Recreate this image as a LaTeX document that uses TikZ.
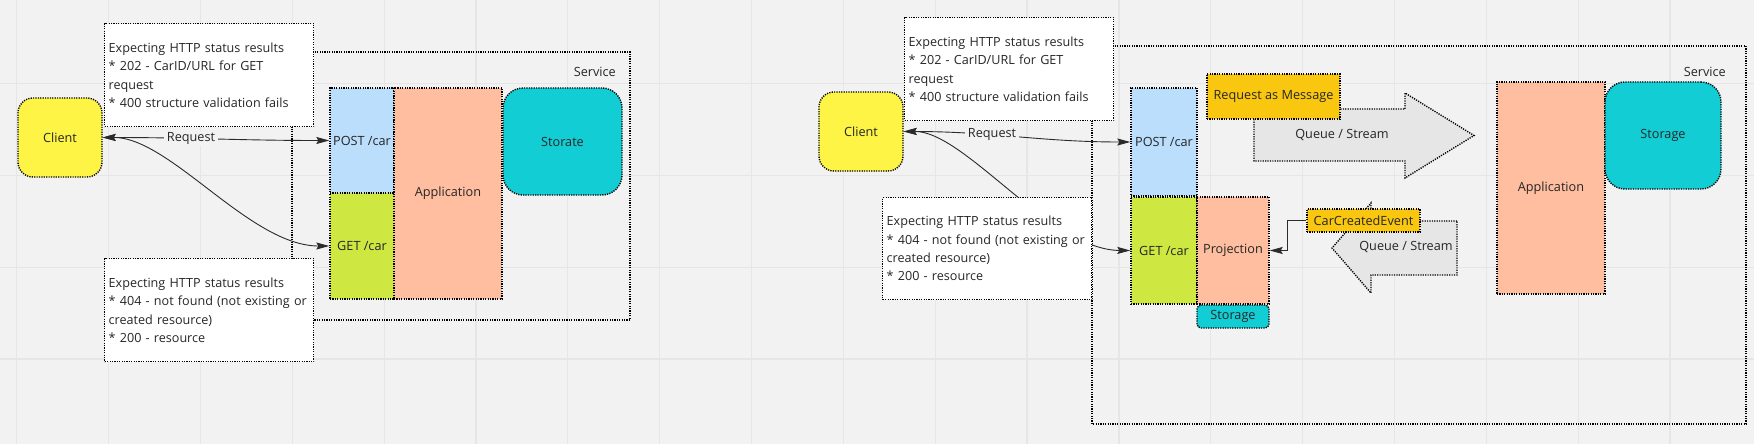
\documentclass[tikz,border=0pt]{standalone}
\usepackage{fontspec}
\setmainfont{Open Sans}
\usetikzlibrary{arrows.meta}

\definecolor{bgcol}{HTML}{F2F2F2}
\definecolor{gridcol}{HTML}{E6E6E6}
\definecolor{txtcol}{HTML}{262626}
\definecolor{linecol}{HTML}{2B2B2B}
\definecolor{clientcol}{HTML}{FEF445}
\definecolor{postcol}{HTML}{BBDEFC}
\definecolor{getcol}{HTML}{CEE741}
\definecolor{appcol}{HTML}{FFBE9F}
\definecolor{storecol}{HTML}{12CDD4}
\definecolor{msgcol}{HTML}{FAC710}
\definecolor{queuecol}{HTML}{E6E6E6}

\tikzset{
  dots/.style={draw=black, line width=1.4pt, dash pattern=on 1.2pt off 1.2pt},
  box/.style={dots, inner sep=0pt, text=txtcol, font=\fontsize{12.7}{18.3}\selectfont},
  note/.style={box, fill=white, align=left, anchor=north west, text width=201pt,
    inner xsep=4pt, minimum height=103pt, font=\fontsize{12.6}{18.3}\selectfont},
  lbl/.style={inner sep=1pt, text=txtcol, font=\fontsize{12.7}{18.3}\selectfont},
  conn/.style={draw=linecol, line width=0.9pt, {Stealth[length=13pt,width=7pt,inset=2pt]}-{Stealth[length=13pt,width=7pt,inset=2pt]}},
  oneway/.style={draw=linecol, line width=0.9pt, -{Stealth[length=13pt,width=7pt,inset=2pt]}}
}

\begin{document}
\begin{tikzpicture}[x=1pt,y=-1pt]

  % board
  \fill[bgcol] (0,0) rectangle (1754,444);
  \useasboundingbox (0,0) rectangle (1754,444);
  \foreach \gx in {0,...,18}
    \draw[gridcol, line width=1.2pt] (16.7+91.85*\gx,0) -- (16.7+91.85*\gx,444);
  \foreach \gy in {0,...,3}
    \draw[gridcol, line width=1.2pt] (0,83.3+91.9*\gy) -- (1754,83.3+91.9*\gy);

  % ---- synchronous version ----
  \draw[dots] (292,52) rectangle (630,320);
  \node[lbl, anchor=east] (svclbl) at (617,72) {Service};

  \node[box, fill=clientcol, rounded corners=15pt, minimum width=84pt, minimum height=79pt] (client) at (60,137.5) {Client};
  \node[box, fill=postcol, minimum width=64pt, minimum height=105pt] (post) at (362,140.5) {POST /car};
  \node[box, fill=getcol, minimum width=64pt, minimum height=106pt] (get) at (362,246) {GET /car};
  \node[box, fill=appcol, minimum width=108pt, minimum height=211pt] (app) at (448,193.5) {Application};
  \node[box, fill=storecol, rounded corners=20pt, minimum width=119pt, minimum height=107pt] (store) at (562.5,141.5) {Storate};

  \draw[conn] (client.east) .. controls (170,137) and (250,246) .. (get.west);
  \draw[conn] (client.east) to[out=0,in=180]
    node[pos=0.38, lbl, fill=bgcol, inner xsep=3pt] (req) {Request} (post.west);

  \node[note] (postnote) at (104,23) {Expecting HTTP status results\\{*} 202 - CarID/URL for GET\\request\\\mbox{* 400 structure validation fails}};
  \node[note] (getnote) at (104,258) {Expecting HTTP status results\\\mbox{* 404 - not found (not existing or}\\created resource)\\{*} 200 - resource};

  % ---- queue based version ----
  \draw[dots] (1092,46) rectangle (1746,424);
  \node[lbl, anchor=east] (svclbl2) at (1727,72) {Service};

  \node[box, fill=clientcol, rounded corners=15pt, minimum width=84pt, minimum height=79pt] (client2) at (861,131.5) {Client};
  \node[box, fill=postcol, minimum width=66pt, minimum height=108pt] (post2) at (1164,142) {POST /car};
  \node[box, fill=getcol, minimum width=66pt, minimum height=107pt] (get2) at (1164,250.5) {GET /car};
  \node[box, fill=appcol, minimum width=72pt, minimum height=107pt] (proj) at (1233,250.5) {Projection};
  \node[box, fill=storecol, rounded corners=4pt, minimum width=72pt, minimum height=23pt] (projstore) at (1233,316.5) {Storage};

  % queues
  \draw[dots, fill=queuecol] (1254,109) -- (1405,109) -- (1405,93) -- (1474,135.5)
    -- (1405,178) -- (1405,161) -- (1254,161) -- cycle;
  \node[lbl] (queue1) at (1342,135) {Queue / Stream};
  \draw[dots, fill=queuecol] (1457,221) -- (1371,221) -- (1371,203) -- (1332,248)
    -- (1371,293) -- (1371,275) -- (1457,275) -- cycle;
  \node[lbl] (queue2) at (1406,247) {Queue / Stream};

  \node[box, fill=msgcol, minimum width=133pt, minimum height=45pt] (msg) at (1273.5,96.5) {Request as Message};
  \node[box, fill=msgcol, minimum width=113pt, minimum height=23pt] (evt) at (1363.5,220.5) {CarCreatedEvent};

  \node[box, fill=appcol, minimum width=108pt, minimum height=212pt] (app2) at (1551,188) {Application};
  \node[box, fill=storecol, rounded corners=20pt, minimum width=116pt, minimum height=107pt] (store2) at (1663,135.5) {Storage};

  \draw[conn] (client2.east) .. controls (965,131) and (1050,250) .. (get2.west);
  \draw[conn] (client2.east) to[out=0,in=180]
    node[pos=0.38, lbl, fill=bgcol, inner xsep=3pt] (req2) {Request} (post2.west);
  \draw[oneway] (evt.west) -- ++(-19,0) |- (proj.east);

  \node[note] (postnote2) at (904,17) {Expecting HTTP status results\\{*} 202 - CarID/URL for GET\\request\\\mbox{* 400 structure validation fails}};
  \node[note, minimum height=102pt] (getnote2) at (882,197) {Expecting HTTP status results\\\mbox{* 404 - not found (not existing or}\\created resource)\\{*} 200 - resource};

\end{tikzpicture}
\end{document}
